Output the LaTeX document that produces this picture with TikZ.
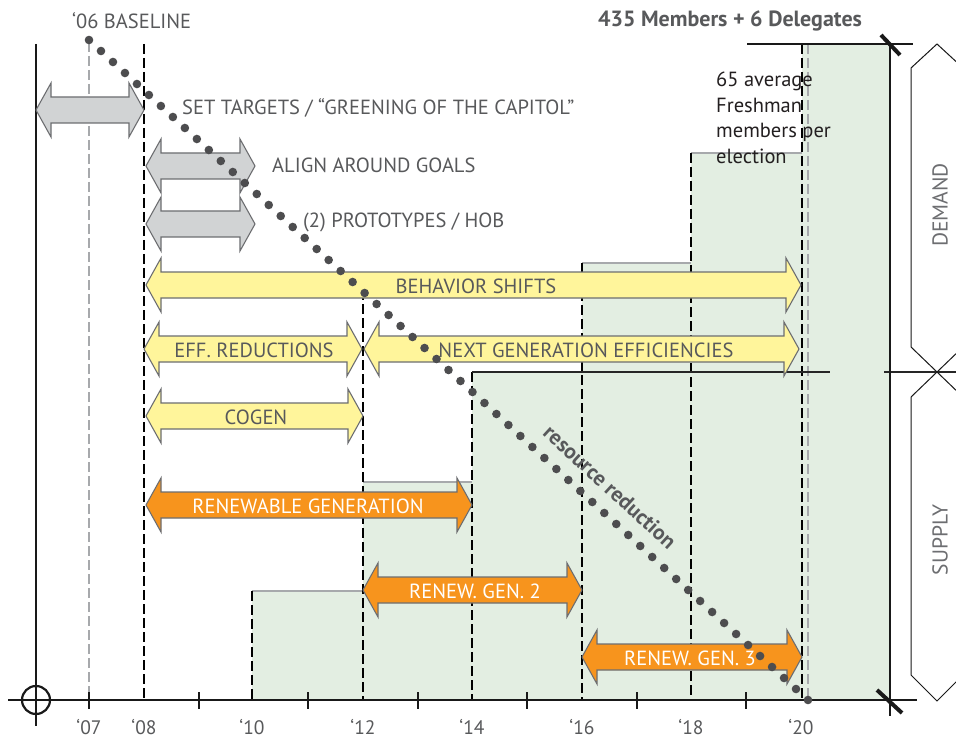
\documentclass[tikz,border=0pt]{standalone}
\usepackage{fontspec}
\setmainfont{PT Sans}
\definecolor{txt}{HTML}{58595B}
\definecolor{dark}{HTML}{231F20}
\definecolor{agray}{HTML}{D1D3D4}
\definecolor{ayellow}{HTML}{FFF59B}
\definecolor{aorange}{HTML}{F7941D}
\definecolor{aline}{HTML}{6D6E71}
\definecolor{green}{HTML}{E3EEE2}
\definecolor{steptop}{HTML}{A7A9AC}
\definecolor{dotc}{HTML}{4D4D4F}
\newcommand{\blkarrow}[4]{%
  \draw[#1] (#2,#4) -- ++(15,-27) -- ++(0,14) -- ({#3-15},{#4-13}) -- ++(0,-14) -- (#3,#4)
    -- ++(-15,27) -- ++(0,-14) -- ({#2+15},{#4+13}) -- ++(0,14) -- cycle;}
\tikzset{
  grayarr/.style={fill=agray,draw=aline,line width=1.1pt,line join=miter},
  yelarr/.style={fill=ayellow,draw=aline,line width=1.1pt,line join=miter},
  orarr/.style={fill=aorange,draw=aline,line width=1.1pt,line join=miter},
  lbl/.style={text=txt,font=\fontsize{20.5}{22}\selectfont,inner sep=0pt},
  wlbl/.style={text=white,font=\fontsize{20.5}{22}\selectfont,inner sep=0pt},
  yr/.style={text=txt,font=\fontsize{19.5}{21}\selectfont,inner sep=0pt,anchor=base},
  dashblk/.style={draw=black,line width=1.1pt,dash pattern=on 10pt off 4pt},
  dashgry/.style={draw=steptop,line width=1.1pt,dash pattern=on 10pt off 4pt},
  axis/.style={draw=black!90,line width=2.2pt},
}
\begin{document}
\begin{tikzpicture}[x=1pt,y=-1pt]
\useasboundingbox (0,0) rectangle (956,738);
\clip (0,0) rectangle (956,738);
\fill[white] (0,0) rectangle (956,738);
% green steps
\fill[green] (252,591) rectangle (363,700);
\fill[green] (363,482) rectangle (472,700);
\fill[green] (472,372) rectangle (582,700);
\fill[green] (582,263) rectangle (691,700);
\fill[green] (691,153) rectangle (802,700);
\fill[green] (802,44) rectangle (890,700);
% step tops
\draw[steptop,line width=1.2pt] (252,591) -- (363,591);
\draw[steptop,line width=1.2pt] (363,482) -- (472,482);
\draw[steptop,line width=1.2pt] (582,263) -- (691,263);
\draw[steptop,line width=1.2pt] (691,153) -- (802,153);
% dashed verticals
\draw[dashgry] (89,42) -- (89,700);
\draw[dashblk] (144,44) -- (144,700);
\draw[dashblk] (252,591) -- (252,700);
\draw[dashblk] (363,290) -- (363,700);
\draw[dashblk] (472,372) -- (472,700);
\draw[dashblk] (582,263) -- (582,700);
\draw[dashblk] (691,153) -- (691,700);
\draw[dashblk] (802,44) -- (802,700);
\draw[dashgry] (808,44) -- (808,700);
% horizontal line at supply/demand split
\draw[black!85,line width=1.1pt] (472,372) -- (830,372);
\draw[black!85,line width=1.1pt] (884,372) -- (956,372);
% top line and right boundary
\draw[black!90,line width=1.6pt] (747,44) -- (913,44);
\draw[black!90,line width=1.2pt] (890,44) -- (890,716);
\draw[black!90,line width=4pt] (881,35) -- (900,55);
\draw[black!90,line width=4pt] (877,690) -- (902,713);
% axes
\draw[axis] (36,44) -- (36,726);
\draw[axis] (8,700) -- (917,700);
\draw[axis] (36,700) circle (14);
\foreach \x in {89,199,308,418,527,637,746} \draw[axis] (\x,692) -- (\x,709);
% brackets
\draw[black!90,line width=1pt] (911,347) -- (911,68) -- (937,44) -- (963,68);
\draw[black!90,line width=1pt] (911,347) -- (963,397);
\draw[black!90,line width=1pt] (911,397) -- (963,347);
\draw[black!90,line width=1pt] (911,397) -- (911,675) -- (937,701) -- (963,675);
% block arrows
\blkarrow{grayarr}{36}{144}{110}
\blkarrow{grayarr}{146}{255}{166}
\blkarrow{grayarr}{146}{255}{224}
\blkarrow{yelarr}{146}{801}{285}
\blkarrow{yelarr}{144}{362}{349}
\blkarrow{yelarr}{364}{799}{349}
\blkarrow{yelarr}{146}{363}{416}
\blkarrow{orarr}{146}{472}{505}
\blkarrow{orarr}{363}{582}{590}
\blkarrow{orarr}{582}{802}{657}
% dotted resource-reduction line
\foreach \i in {0,...,60} \fill[dotc] ({89+\i*11.9833},{40+\i*11}) circle (4.3);
% labels
\node[lbl,anchor=west] (settargets) at (182,108) {SET TARGETS / “GREENING OF THE CAPITOL”};
\node[lbl,anchor=west] (align) at (272,165) {ALIGN AROUND GOALS};
\node[lbl,anchor=west] (proto) at (303,222) {(2) PROTOTYPES / HOB};
\node[lbl] (behav) at (476,286) {BEHAVIOR SHIFTS};
\node[lbl] (eff) at (254,350) {EFF. REDUCTIONS};
\node[lbl] (nextgen) at (586,350) {NEXT GENERATION EFFICIENCIES};
\node[lbl] (cogen) at (256,417) {COGEN};
\node[wlbl] (renew) at (308,506) {RENEWABLE GENERATION};
\node[wlbl] (renew2) at (475,591) {RENEW. GEN. 2};
\node[wlbl] (renew3) at (690,658) {RENEW. GEN. 3};
\node[lbl,anchor=west] (baseline) at (72,21) {‘06 BASELINE};
\node[lbl,font=\fontsize{22}{24}\selectfont\bfseries] (members) at (730,21) {435 Members + 6 Delegates};
\node[text=dark,font=\fontsize{20.5}{25.5}\selectfont,align=left,anchor=north west,inner sep=0pt] (fresh) at (716,72) {65 average\\Freshman\\members per\\election};
\node[lbl,font=\fontsize{21.5}{23}\selectfont\bfseries,rotate=-42.5] (resred) at (610,487) {resource reduction};
\node[text=aline,font=\fontsize{21.5}{23}\selectfont,rotate=90,inner sep=0pt] (demand) at (940,205) {DEMAND};
\node[text=aline,font=\fontsize{21.5}{23}\selectfont,rotate=90,inner sep=0pt] (supply) at (940,540) {SUPPLY};
% year labels
\node[yr] (y07) at (89,734) {‘07};
\node[yr] (y08) at (144,734) {‘08};
\node[yr] (y10) at (252,734) {‘10};
\node[yr] (y12) at (363,734) {‘12};
\node[yr] (y14) at (472,734) {‘14};
\node[yr] (y16) at (582,734) {‘16};
\node[yr] (y18) at (691,734) {‘18};
\node[yr] (y20) at (801,734) {‘20};
\end{tikzpicture}
\end{document}
